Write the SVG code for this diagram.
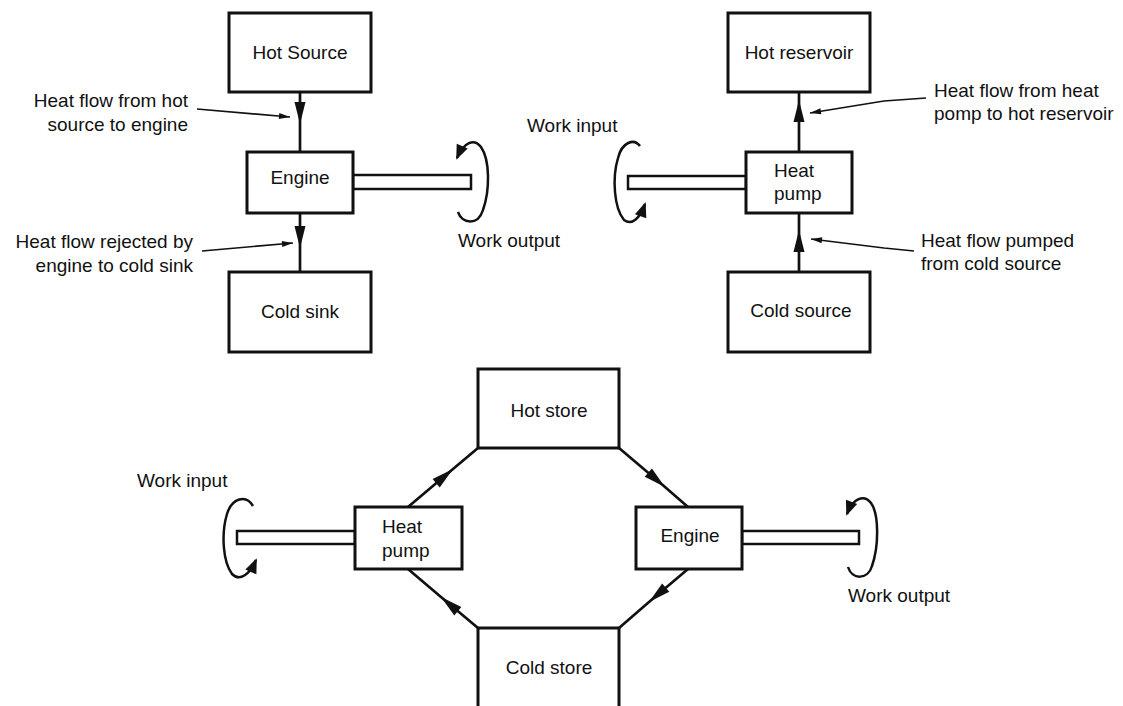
<svg xmlns="http://www.w3.org/2000/svg" width="1123" height="706" viewBox="0 0 1123 706">
<defs>
<style>
.box{fill:#fff;stroke:#111;stroke-width:3}
.shaft{fill:#fff;stroke:#111;stroke-width:2.5}
.ln{fill:none;stroke:#111;stroke-width:2.7}
.ld{fill:none;stroke:#111;stroke-width:1.7}
.rot{fill:none;stroke:#111;stroke-width:2.5}
text{font-family:"Liberation Sans",Arial,Helvetica,sans-serif;font-size:19px;fill:#111}
.c{text-anchor:middle}
.r{text-anchor:end}
</style>
<marker id="ah" markerUnits="userSpaceOnUse" markerWidth="22" markerHeight="11" viewBox="0 0 22 11" refX="22" refY="5.5" orient="auto" overflow="visible"><path d="M0,0 L22,5.5 L0,11 z" fill="#111"/></marker>
<marker id="sh" markerUnits="userSpaceOnUse" markerWidth="11" markerHeight="6" viewBox="0 0 11 6" refX="11" refY="3" orient="auto" overflow="visible"><path d="M0,0 L11,3 L0,6 z" fill="#111"/></marker>
<marker id="rh" markerUnits="userSpaceOnUse" markerWidth="15" markerHeight="12" viewBox="0 0 15 12" refX="13" refY="6" orient="auto" overflow="visible"><path d="M0,0 L15,6 L0,12 z" fill="#111"/></marker>
</defs>

<g id="connectors">
<path class="ln" d="M300,92 L300,124 L300,152" marker-mid="url(#ah)"/>
<path class="ln" d="M300,213 L300,248 L300,272" marker-mid="url(#ah)"/>
<path class="ln" d="M799,152 L799,100 L799,92" marker-mid="url(#ah)"/>
<path class="ln" d="M799,272 L799,230 L799,213" marker-mid="url(#ah)"/>
<path class="ln" d="M408,507 L453,469 L478,448" marker-mid="url(#ah)"/>
<path class="ln" d="M619,448 L665,487 L688,507" marker-mid="url(#ah)"/>
<path class="ln" d="M688,569 L649,602 L619,628" marker-mid="url(#ah)"/>
<path class="ln" d="M478,628 L441,597 L408,569" marker-mid="url(#ah)"/>
<path class="ld" d="M197,109 L290,117" marker-end="url(#sh)"/>
<path class="ld" d="M202,251 L293,243" marker-end="url(#sh)"/>
<path class="ld" d="M926,98 L884,101 L810,113" marker-end="url(#sh)"/>
<path class="ld" d="M914,251 L884,248 L811,239" marker-end="url(#sh)"/>
</g>

<g id="hot-source"><rect class="box" x="229" y="13" width="142" height="79"/><text class="c" x="300" y="59">Hot Source</text></g>
<g id="engine-1"><rect class="shaft" x="353" y="175" width="118" height="14"/><rect class="box" x="247" y="152" width="106" height="61"/><text class="c" x="300" y="184">Engine</text></g>
<g id="cold-sink"><rect class="box" x="229" y="272" width="142" height="80"/><text class="c" x="300" y="318">Cold sink</text></g>
<g id="work-output-1"><path class="rot" d="M458,212 C462,224 478,226 483,210 C490,190 490,160 481,147 C474,138 464,142 457,158" marker-end="url(#rh)"/><text x="458" y="247">Work output</text></g>
<g id="label-hot-flow"><text class="r" x="188" y="107">Heat flow from hot</text><text class="r" x="188" y="131">source to engine</text></g>
<g id="label-rejected"><text class="r" x="193" y="248">Heat flow rejected by</text><text class="r" x="193" y="272">engine to cold sink</text></g>

<g id="hot-reservoir"><rect class="box" x="728" y="13" width="142" height="79"/><text class="c" x="799" y="59">Hot reservoir</text></g>
<g id="heat-pump-1"><rect class="shaft" x="628" y="176" width="118" height="13"/><rect class="box" x="746" y="152" width="106" height="61"/><text x="774" y="177">Heat</text><text x="774" y="200">pump</text></g>
<g id="cold-source"><rect class="box" x="728" y="272" width="142" height="80"/><text class="c" x="801" y="317">Cold source</text></g>
<g id="work-input-1"><path class="rot" d="M640,146 C634,138 622,142 618,158 C612,178 614,208 624,220 C632,226 640,218 645,204" marker-end="url(#rh)"/><text x="527" y="132">Work input</text></g>
<g id="label-to-hot"><text x="934" y="97">Heat flow from heat</text><text x="934" y="120">pomp to hot reservoir</text></g>
<g id="label-pumped"><text x="921" y="247">Heat flow pumped</text><text x="921" y="270">from cold source</text></g>

<g id="hot-store"><rect class="box" x="478" y="369" width="141" height="79"/><text class="c" x="549" y="417">Hot store</text></g>
<g id="cold-store"><rect class="box" x="478" y="628" width="141" height="90"/><text class="c" x="549" y="674">Cold store</text></g>
<g id="heat-pump-2"><rect class="shaft" x="237" y="531" width="118" height="13"/><rect class="box" x="355" y="507" width="107" height="62"/><text x="382" y="533">Heat</text><text x="382" y="557">pump</text></g>
<g id="engine-2"><rect class="shaft" x="742" y="531" width="117" height="13"/><rect class="box" x="636" y="507" width="106" height="62"/><text class="c" x="690" y="542">Engine</text></g>
<g id="work-input-2"><path class="rot" d="M253,506 C246,494 232,498 227,514 C221,534 223,562 232,574 C240,582 250,574 256,560" marker-end="url(#rh)"/><text x="137" y="487">Work input</text></g>
<g id="work-output-2"><path class="rot" d="M848,567 C852,580 868,580 872,566 C879,546 879,514 871,503 C864,494 853,498 847,514" marker-end="url(#rh)"/><text x="848" y="602">Work output</text></g>
</svg>
